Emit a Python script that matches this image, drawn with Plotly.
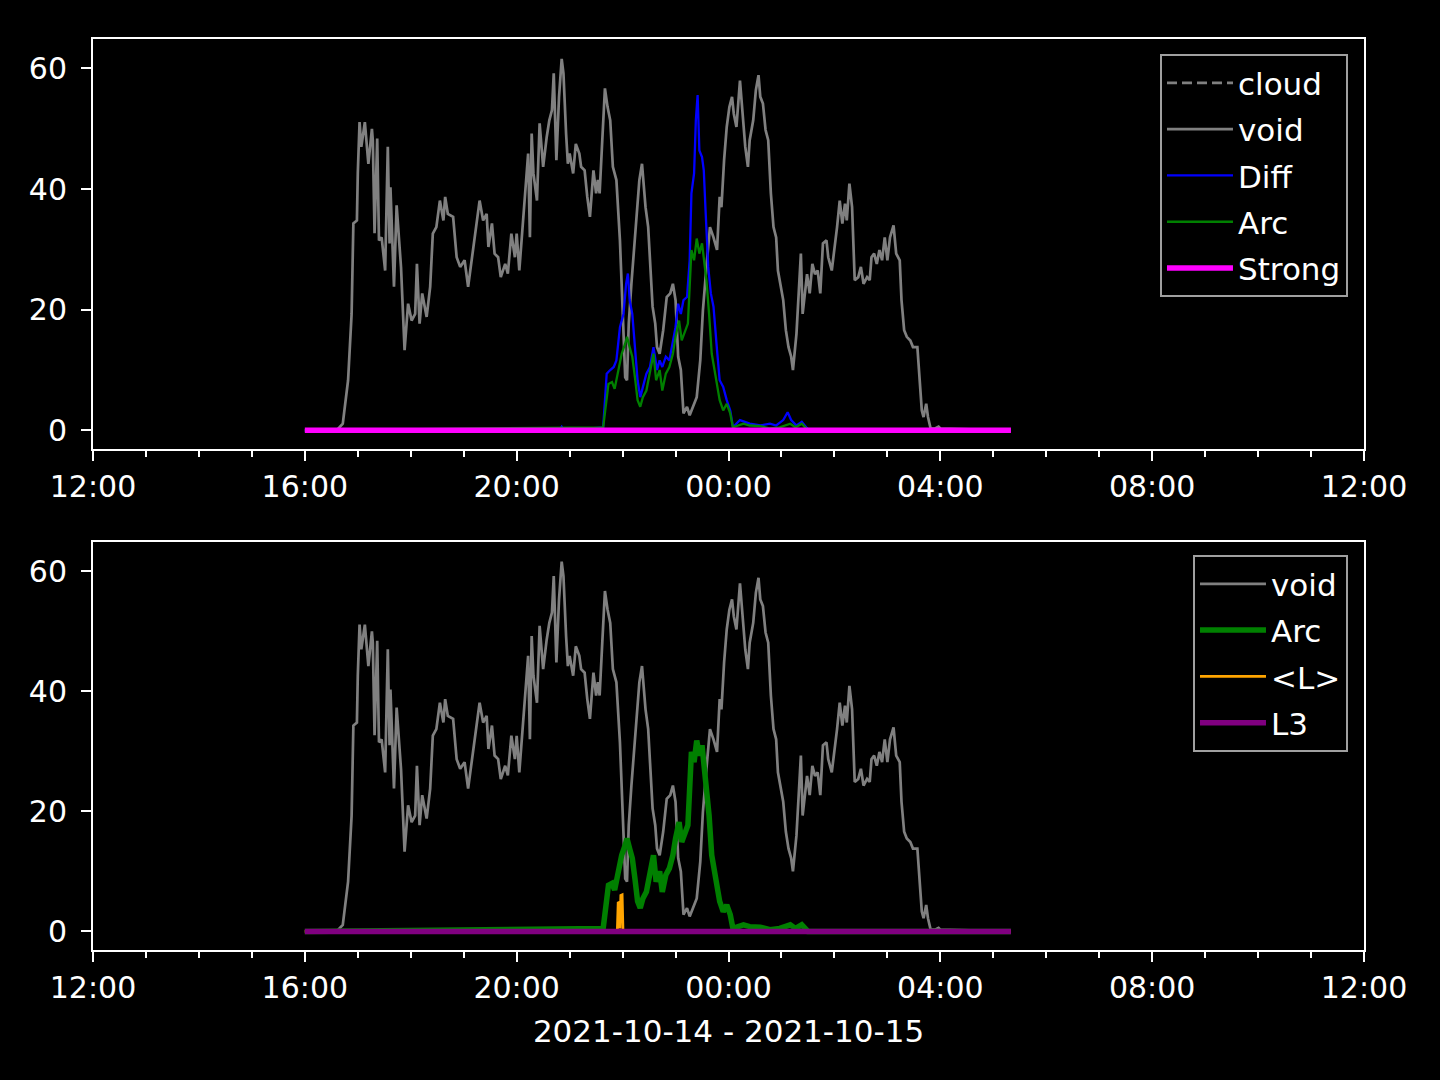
import pandas as pd
import plotly.graph_objects as go

BASE = "2021-10-14 16:00"

# ---- data (minutes after 16:00, values) ----
void_min = [0, 36, 43, 49, 53, 54, 55, 59, 60, 62, 64, 68, 72, 76, 77, 79, 82, 84, 87, 91, 94, 96, 97, 101, 104, 109,
            113, 117, 121, 125, 127, 130, 133, 138, 142, 145, 149, 153, 157, 159, 162, 168, 172, 176, 181, 185, 189,
            193, 198, 202, 206, 208, 212, 215, 219, 222, 227, 230, 234, 238, 240, 243, 247, 251, 253, 255, 257, 259,
            263, 266, 268, 270, 274, 277, 280, 282, 285, 288, 291, 293, 296, 298, 300, 304, 307, 311, 313, 317, 320,
            323, 327, 330, 332, 334, 337, 340, 343, 346, 349, 353, 357, 360, 363, 365, 367, 370, 373, 376, 379, 382,
            383, 386, 389, 392, 394, 397, 399, 402, 406, 410, 414, 417, 420, 423, 426, 429, 433, 436, 440, 444, 448,
            451, 455, 459, 463, 467, 470, 472, 475, 478, 481, 484, 486, 489, 493, 496, 499, 502, 504, 508, 511, 514,
            516, 519, 522, 525, 528, 531, 534, 536, 539, 542, 545, 548, 551, 553, 557, 559, 562, 564, 567, 569, 572,
            575, 578, 581, 584, 587, 591, 593, 597, 601, 603, 606, 609, 612, 614, 617, 620, 623, 627, 630, 633, 637,
            640, 642, 645, 648, 651, 654, 657, 660, 663, 667, 670, 674, 676, 679, 682, 686, 689, 694, 696, 699, 701,
            704, 706, 709, 714, 718, 720, 800]
void_val = [0, 0, 1.1, 8.3, 19.3, 24.9, 34.3, 34.8, 42.6, 51.1, 47, 51.1, 44.2, 50, 48.1, 32.7, 48.4, 31.5, 32, 26.5,
            47, 31, 40.3, 23.8, 37.3, 27, 13.3, 21, 18.2, 19.3, 27.6, 17.7, 22.7, 18.8, 23.8, 32.6, 33.7, 38.1, 34.8,
            38.7, 35.9, 35.4, 28.7, 27.1, 28.2, 23.8, 28.2, 33.2, 38.1, 34.8, 35.9, 30.4, 34.3, 29.3, 28.7, 25.4, 27.6,
            26, 32.6, 28.7, 32.6, 26.5, 33.7, 40.9, 45.9, 32, 49.2, 42.6, 38.1, 50.9, 46.4, 43.7, 48.6, 51.4, 53.1,
            59.2, 44.8, 55.3, 61.6, 59.2, 49.2, 44.2, 45.9, 42.6, 47.5, 45.9, 43.7, 43.1, 38.7, 35.4, 43.1, 39.3, 41.5,
            39.3, 48.1, 56.7, 53.6, 51.4, 43.7, 41.5, 31.5, 20.5, 8.8, 8.3, 17.7, 24.3, 29.9, 35.9, 41.5, 44.2, 42.6,
            37, 33.7, 26.5, 20.5, 17.7, 13.8, 12.7, 16.6, 22.1, 22.7, 24.3, 21.6, 12.2, 10, 2.8, 3.9, 2.5, 3.9, 5.5,
            11.6, 19.9, 27.1, 33.7, 32, 29.9, 38.7, 37, 44.8, 50.3, 53.6, 55.3, 52.5, 50.3, 58, 53.1, 47, 43.7, 48.1,
            51.4, 56.4, 58.9, 55.3, 54.2, 49.8, 48.1, 39.3, 33.7, 32, 26.5, 24.3, 21.6, 16.6, 13.8, 12.2, 10, 16, 21.6,
            29.3, 19.3, 23.2, 25.9, 22.7, 27.6, 25.9, 26.5, 22.7, 31, 31.5, 28.7, 26.5, 31, 33.7, 38.1, 34.3, 37.6,
            34.8, 40.9, 37, 24.9, 25.4, 27.1, 24.3, 25.4, 24.9, 28.7, 29.3, 27.6, 29.9, 28.2, 32, 28.2, 32, 34, 29.3,
            28.2, 21.6, 16.6, 15.5, 14.9, 13.8, 13.8, 9.4, 3.3, 2.2, 4.4, 2.2, 0.3, 0.3, 0.6, 0.3, 0]

diff_min = [0, 288, 291, 294, 338, 342, 346, 350, 353, 357, 361, 364, 366, 368, 371, 374, 377, 380, 383, 387, 391, 395,
            399, 402, 405, 409, 413, 417, 420, 423, 426, 429, 433, 436, 438, 441, 443, 445, 447, 450, 452, 454, 457,
            460, 463, 467, 470, 474, 478, 482, 485, 493, 504, 516, 527, 534, 542, 547, 551, 557, 563, 568, 572, 800]
diff_val = [0, 0, 0.6, 0, 0.5, 9.4, 10, 10.5, 11.6, 17.1, 19.3, 24.3, 26, 21.6, 19.3, 13.8, 8.3, 5.5, 7.2, 9.4, 10.5,
            13.8, 10, 11.6, 10.5, 12.2, 11.6, 14.9, 17.1, 21, 19.3, 21.6, 22.1, 28.2, 39.3, 42.6, 51.4, 55.6, 46.4,
            45.3, 43.1, 36.5, 27.1, 22.7, 20.5, 13.3, 8.3, 7.2, 5, 3.3, 0.5, 1.7, 1.1, 0.8, 1.1, 0.8, 1.7, 3.0, 1.7,
            0.8, 1.4, 0.5, 0, 0]

arc_min = [0, 338, 344, 348, 351, 355, 359, 363, 365, 368, 371, 374, 377, 380, 383, 387, 391, 395, 398, 402, 405, 409,
           413, 417, 420, 424, 427, 431, 434, 438, 441, 444, 447, 450, 452, 455, 458, 461, 463, 467, 470, 474, 478,
           482, 485, 497, 504, 516, 527, 538, 550, 556, 563, 570, 800]
arc_val = [0, 0.5, 7.7, 8, 6.9, 10, 12.7, 14.4, 15.5, 13.8, 12.2, 8.8, 5, 3.9, 5.5, 6.6, 9.4, 12.7, 8.3, 10, 6.6, 9.4,
           10.5, 12.7, 15.5, 18.2, 14.9, 16.6, 17.7, 29.9, 28.2, 31.8, 29.3, 31, 28.2, 24.9, 19.3, 12.7, 11, 7.2, 5,
           3.3, 4.4, 2.8, 0.5, 1.1, 0.8, 0.7, 0.3, 0.5, 1.1, 0.5, 1.1, 0, 0]

strong_min = [0, 800]
strong_val = [0, 0]

meanL_min = [0, 354, 355, 356.5, 357, 358, 359.5, 360.5, 800]
meanL_val = [0, 0, 4.9, 4.7, 0.5, 6.0, 6.1, 0, 0]

l3_min = [0, 800]
l3_val = [0, 0]


def times(mins):
    base = pd.Timestamp(BASE)
    return [base + pd.Timedelta(minutes=m) for m in mins]


fig = go.Figure()

# top panel
fig.add_trace(go.Scatter(x=[None], y=[None], mode="lines", name="cloud",
                         line=dict(color="#808080", width=2.7, dash="10px,5px"),
                         xaxis="x", yaxis="y", legend="legend", legendgroup="a1", showlegend=True))
fig.add_trace(go.Scatter(x=times(void_min), y=void_val, mode="lines", name="void",
                         line=dict(color="#808080", width=2.7),
                         xaxis="x", yaxis="y", legend="legend", legendgroup="a2"))
fig.add_trace(go.Scatter(x=times(diff_min), y=diff_val, mode="lines", name="Diff",
                         line=dict(color="#0000ff", width=2.3),
                         xaxis="x", yaxis="y", legend="legend", legendgroup="a3"))
fig.add_trace(go.Scatter(x=times(arc_min), y=arc_val, mode="lines", name="Arc",
                         line=dict(color="#008000", width=2.3),
                         xaxis="x", yaxis="y", legend="legend", legendgroup="a4"))
fig.add_trace(go.Scatter(x=times(strong_min), y=strong_val, mode="lines", name="Strong",
                         line=dict(color="#ff00ff", width=5.5),
                         xaxis="x", yaxis="y", legend="legend", legendgroup="a5"))

# bottom panel
fig.add_trace(go.Scatter(x=times(void_min), y=void_val, mode="lines", name="void",
                         line=dict(color="#808080", width=2.7),
                         xaxis="x2", yaxis="y2", legend="legend2", legendgroup="b1"))
fig.add_trace(go.Scatter(x=times(arc_min), y=arc_val, mode="lines", name="Arc",
                         line=dict(color="#008000", width=5.5),
                         xaxis="x2", yaxis="y2", legend="legend2", legendgroup="b2"))
fig.add_trace(go.Scatter(x=times(meanL_min), y=meanL_val, mode="lines", name="<L>",
                         line=dict(color="#ffa500", width=2.7),
                         xaxis="x2", yaxis="y2", legend="legend2", legendgroup="b3"))
fig.add_trace(go.Scatter(x=times(l3_min), y=l3_val, mode="lines", name="L3",
                         line=dict(color="#800080", width=5.5),
                         xaxis="x2", yaxis="y2", legend="legend2", legendgroup="b4"))

xcommon = dict(
    type="date",
    range=["2021-10-14 12:00", "2021-10-15 12:00"],
    tick0="2021-10-14 12:00", dtick=4 * 3600 * 1000, tickformat="%H:%M",
    ticks="outside", ticklen=10, tickwidth=2, tickcolor="white",
    showline=True, linecolor="white", linewidth=2, mirror=True,
    showgrid=False, zeroline=False,
    minor=dict(dtick=3600 * 1000, tick0="2021-10-14 12:00", ticks="outside",
               ticklen=6, tickwidth=1.5, tickcolor="white", showgrid=False),
    tickfont=dict(size=30, color="white"),
)
ycommon = dict(
    range=[-3.09, 64.89], tick0=0, dtick=20,
    ticks="outside", ticklen=10, tickwidth=2, tickcolor="white",
    showline=True, linecolor="white", linewidth=2, mirror=True,
    showgrid=False, zeroline=False, ticklabelstandoff=8,
    tickfont=dict(size=30, color="white"),
)

legend_common = dict(
    xanchor="right", yanchor="top", bgcolor="black",
    bordercolor="#a0a0a0", borderwidth=2,
    font=dict(size=31, color="white", family="DejaVu Sans"),
    tracegroupgap=3, itemwidth=66,
)

fig.update_layout(
    width=1440, height=1080,
    paper_bgcolor="black", plot_bgcolor="black",
    font=dict(family="DejaVu Sans", color="white", size=30),
    margin=dict(l=93, r=76, t=39, b=130),
    xaxis=dict(domain=[0, 1], anchor="y", **xcommon),
    yaxis=dict(domain=[0.55, 1], anchor="x", **ycommon),
    xaxis2=dict(domain=[0, 1], anchor="y2",
                title=dict(text="2021-10-14 - 2021-10-15", font=dict(size=31, color="white"), standoff=16),
                **xcommon),
    yaxis2=dict(domain=[0, 0.448], anchor="x2", **ycommon),
    legend=dict(x=0.9874, y=0.9833, **legend_common),
    legend2=dict(x=0.9874, y=0.4334, **legend_common),
    showlegend=True,
)

fig.write_html("out.html", config={"displayModeBar": False},
               post_script="document.body.style.margin='0';document.body.style.background='black';")
